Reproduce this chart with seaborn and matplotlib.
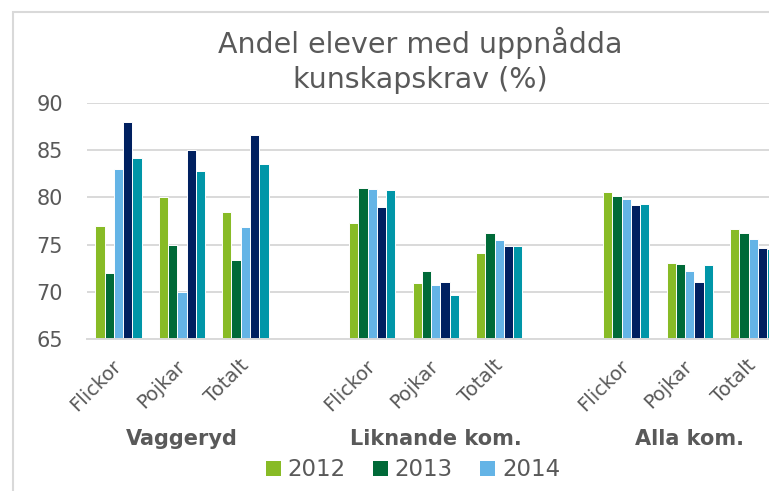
import pandas as pd
import matplotlib.pyplot as plt
import seaborn as sns
from matplotlib.patches import Patch, Rectangle
from matplotlib.transforms import blended_transform_factory

# data
groups = ["Vaggeryd", "Liknande kom.", "Alla kom."]
subgroups = ["Flickor", "Pojkar", "Totalt"]
years = ["2012", "2013", "2014", "2015", "2016"]

v2012 = [77.0, 80.0, 78.4, 77.3, 70.9, 74.1, 80.6, 73.1, 76.6]
v2013 = [72.0, 75.0, 73.4, 81.0, 72.2, 76.2, 80.1, 72.9, 76.2]
v2014 = [83.0, 70.0, 76.9, 80.9, 70.7, 75.5, 79.8, 72.2, 75.6]
v2015 = [88.0, 85.0, 86.6, 79.0, 71.1, 74.9, 79.2, 71.0, 74.6]
v2016 = [84.2, 82.8, 83.5, 80.8, 69.7, 74.9, 79.3, 72.8, 74.5]

# only these legend entries are visible in the (cropped) chart
legend_years = ["2012", "2013", "2014"]

colors = ["#88BB26", "#006A38", "#64B4E6", "#002060", "#0096A8"]
txt = "#595959"
grid = "#D9D9D9"

keys = [g + "|" + s for g in groups for s in subgroups]
rows = []
for yr, vals in zip(years, [v2012, v2013, v2014, v2015, v2016]):
    for k, v in zip(keys, vals):
        rows.append({"kat": k, "year": yr, "value": v})
df = pd.DataFrame(rows)

# empty slots between the three clusters
order = keys[:3] + ["gap1"] + keys[3:6] + ["gap2"] + keys[6:]
labels = [k.split("|")[1] if "|" in k else "" for k in order]

sns.set_style("white")
plt.rcParams["font.family"] = ["DejaVu Sans"]

fig = plt.figure(figsize=(7.69, 4.91), dpi=100)
ax = fig.add_axes([0.1127, 0.309, 0.908, 0.482])

sns.barplot(data=df, x="kat", y="value", hue="year", order=order,
            hue_order=years, palette=colors, saturation=1, width=0.73,
            edgecolor="white", linewidth=0.7, ax=ax, legend=False)

ax.set_xlim(-0.5, len(order) - 0.5)
ax.set_ylim(65, 90)
ax.set_yticks([65, 70, 75, 80, 85, 90])
ax.yaxis.grid(True, color=grid, linewidth=1.4)
ax.set_axisbelow(True)
for s in ["top", "right", "left"]:
    ax.spines[s].set_visible(False)
ax.spines["bottom"].set_color(grid)
ax.spines["bottom"].set_linewidth(1.4)
ax.set_xlabel("")
ax.set_ylabel("")
ax.tick_params(axis="y", length=0, pad=17, labelsize=15, labelcolor=txt)
ax.tick_params(axis="x", length=0, pad=17, labelsize=14, labelcolor=txt)
ax.set_xticks(range(len(order)))
ax.set_xticklabels(labels, rotation=45, ha="right", va="center",
                   rotation_mode="anchor")

trans = blended_transform_factory(ax.transData, ax.transAxes)
for i, g in enumerate(groups):
    ax.text(1 + 4 * i, -0.42, g, transform=trans, ha="center", va="center",
            fontsize=15, fontweight="bold", color=txt)

fig.text(0.546, 0.892, "Andel elever med uppnådda", ha="center",
         va="baseline", fontsize=20.5, color=txt)
fig.text(0.546, 0.821, "kunskapskrav (%)", ha="center",
         va="baseline", fontsize=20.5, color=txt)

handles = [Patch(facecolor=colors[years.index(y)], edgecolor="none")
           for y in legend_years]
fig.legend(handles, legend_years, ncol=3, loc="center",
           bbox_to_anchor=(0.537, 0.043), frameon=False, fontsize=16.5,
           labelcolor=txt, handlelength=0.65, handleheight=0.65,
           handletextpad=0.3, columnspacing=1.2, borderpad=0)

# chart frame, cropped at right and bottom
fig.patches.append(Rectangle((0.0165, -0.2), 1.2, 0.2 + 0.9756,
                             transform=fig.transFigure, fill=False,
                             edgecolor=grid, linewidth=1.5))

fig.savefig("out.png", dpi=100)
